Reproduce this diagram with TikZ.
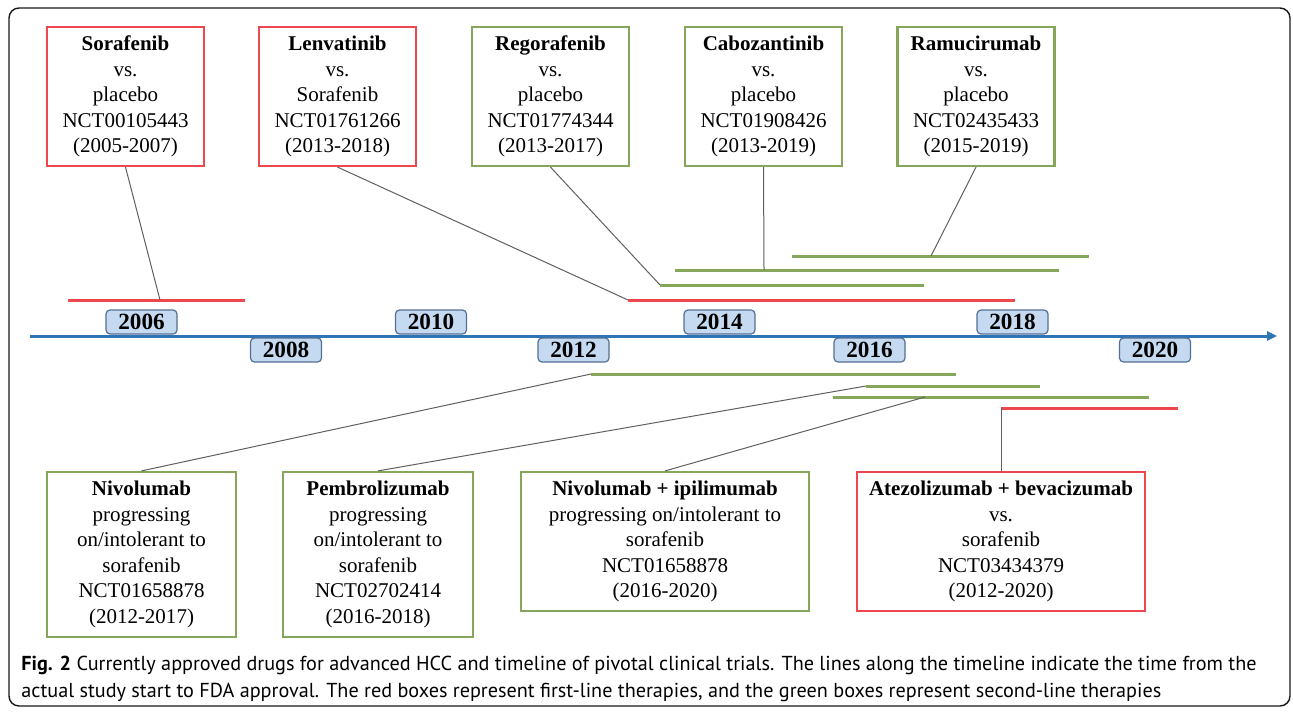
\documentclass[tikz,border=0pt]{standalone}
\usepackage{fontspec}
\setmainfont{Liberation Serif}
\newfontfamily\capfont{PT Sans}
\usetikzlibrary{arrows.meta}
\definecolor{trialred}{RGB}{236,72,78}
\definecolor{trialgreen}{RGB}{134,166,92}
\definecolor{lineblue}{RGB}{46,117,182}
\definecolor{yearfill}{RGB}{197,217,240}
\definecolor{yeardraw}{RGB}{84,110,150}
\definecolor{linkgray}{RGB}{95,95,95}
\begin{document}
\begin{tikzpicture}[x=0.5pt,y=-0.5pt,
		trial/.style={draw,line width=1.1pt,align=center,inner sep=0pt,font=\fontsize{10.5}{12.75}\selectfont},
		redbox/.style={trial,draw=trialred},
		greenbox/.style={trial,draw=trialgreen},
		topbox/.style={minimum width=78.5pt,minimum height=69.5pt},
		yearbox/.style={draw=yeardraw,fill=yearfill,rounded corners=2pt,line width=0.6pt,minimum width=35.5pt,minimum height=12pt,inner sep=0pt,font=\fontsize{11.6}{12}\selectfont\bfseries},
		redbar/.style={draw=trialred,line width=1.5pt},
		greenbar/.style={draw=trialgreen,line width=1.5pt},
		link/.style={draw=linkgray,line width=0.5pt}]
	\useasboundingbox (0,0) rectangle (1293,711);
	\draw[rounded corners=5pt,line width=0.7pt,black!90] (9,8) rectangle (1290,706);
	% top row
	\node[redbox,topbox] (sor) at (125.5,96.5) {\textbf{Sorafenib}\\vs.\\placebo\\NCT00105443\\(2005-2007)};
	\node[redbox,topbox] (len) at (337.5,96.5) {\textbf{Lenvatinib}\\vs.\\Sorafenib\\NCT01761266\\(2013-2018)};
	\node[greenbox,topbox] (reg) at (550.5,96.5) {\textbf{Regorafenib}\\vs.\\placebo\\NCT01774344\\(2013-2017)};
	\node[greenbox,topbox] (cab) at (763.5,96.5) {\textbf{Cabozantinib}\\vs.\\placebo\\NCT01908426\\(2013-2019)};
	\node[greenbox,topbox] (ram) at (976,96.5) {\textbf{Ramucirumab}\\vs.\\placebo\\NCT02435433\\(2015-2019)};
	% bottom row
	\node[greenbox,minimum width=94.5pt,minimum height=82.5pt] (nivo) at (141.5,554.5) {\textbf{Nivolumab}\\progressing\\on/intolerant to\\sorafenib\\NCT01658878\\(2012-2017)};
	\node[greenbox,minimum width=95pt,minimum height=82.5pt] (pem) at (378,554.5) {\textbf{Pembrolizumab}\\progressing\\on/intolerant to\\sorafenib\\NCT02702414\\(2016-2018)};
	\node[greenbox,minimum width=144pt,minimum height=69.5pt] (nivoipi) at (665,541.5) {\textbf{Nivolumab + ipilimumab}\\progressing on/intolerant to\\sorafenib\\NCT01658878\\(2016-2020)};
	\node[redbox,minimum width=144pt,minimum height=69.5pt] (atezo) at (1001,541.5) {\textbf{Atezolizumab + bevacizumab}\\vs.\\sorafenib\\NCT03434379\\(2012-2020)};
	% timeline
	\coordinate (tlS) at (30,336);
	\coordinate (tlE) at (1277,336);
	\draw[lineblue,line width=1.5pt,-{Triangle[length=5pt,width=4.5pt]}] (tlS) -- (tlE);
	\foreach \yr/\xx/\yy in {2006/141.5/322,2008/286/350,2010/431/322,2012/573.5/350,2014/719.5/322,2016/869.5/350,2018/1012.5/322,2020/1155/350}
		\node[yearbox] (y\yr) at (\xx,\yy) {\yr};
	% trial spans
	\coordinate (sorS) at (68,300);   \coordinate (sorE) at (245,300);  \coordinate (sorP) at (160,300);
	\coordinate (lenS) at (628,300);  \coordinate (lenE) at (1015,300);
	\coordinate (regS) at (660,285);  \coordinate (regE) at (924,285);
	\coordinate (cabS) at (675,270);  \coordinate (cabE) at (1059,270); \coordinate (cabP) at (764,270);
	\coordinate (ramS) at (792,256);  \coordinate (ramE) at (1089,256); \coordinate (ramP) at (931,256);
	\coordinate (nivoS) at (591,374); \coordinate (nivoE) at (956,374);
	\coordinate (pemS) at (866,386);  \coordinate (pemE) at (1040,386);
	\coordinate (ipiS) at (833,397);  \coordinate (ipiE) at (1149,397); \coordinate (ipiP) at (925,397);
	\coordinate (atzS) at (1001,408); \coordinate (atzE) at (1178,408);
	\draw[redbar] (sorS) -- (sorE);
	\draw[redbar] (lenS) -- (lenE);
	\draw[greenbar] (regS) -- (regE);
	\draw[greenbar] (cabS) -- (cabE);
	\draw[greenbar] (ramS) -- (ramE);
	\draw[greenbar] (nivoS) -- (nivoE);
	\draw[greenbar] (pemS) -- (pemE);
	\draw[greenbar] (ipiS) -- (ipiE);
	\draw[redbar] (atzS) -- (atzE);
	% links
	\draw[link] (sor.south) -- (sorP);
	\draw[link] (len.south) -- (lenS);
	\draw[link] (reg.south) -- (regS);
	\draw[link] (cab.south) -- (cabP);
	\draw[link] (ram.south) -- (ramP);
	\draw[link] (nivo.north) -- (nivoS);
	\draw[link] (pem.north) -- (pemS);
	\draw[link] (nivoipi.north) -- (ipiP);
	\draw[link] (atezo.north) -- (atzS);
	% caption
	\node[anchor=north west,align=left,inner sep=0pt,font=\capfont\fontsize{10.1}{13.4}\selectfont] (cap) at (21,656) {\textbf{Fig. 2} Currently approved drugs for advanced HCC and timeline of pivotal clinical trials. The lines along the timeline indicate the time from the\\actual study start to FDA approval. The red boxes represent first-line therapies, and the green boxes represent second-line therapies};
\end{tikzpicture}
\end{document}
